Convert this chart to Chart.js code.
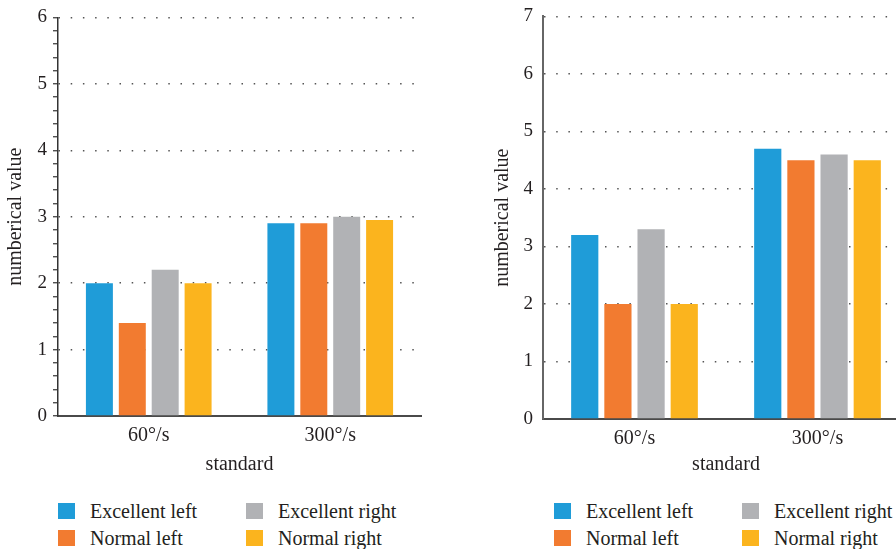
<!DOCTYPE html>
<html>
<head>
<meta charset="utf-8">
<script src="https://cdn.jsdelivr.net/npm/chart.js@4"></script>
<style>
  html, body { margin: 0; padding: 0; background: #fff; overflow: hidden; }
  body { width: 896px; height: 549px; position: relative; font-family: "Liberation Serif", serif; color: #231f20; }
  .box { position: absolute; top: 0; height: 480px; }
  #boxA { left: 0; width: 440px; }
  #boxB { left: 487px; width: 441px; }
  .legend { position: absolute; display: grid; grid-template-columns: 188px 188px; row-gap: 11px; font-size: 20px; }
  .legend div { display: flex; align-items: center; height: 16px; white-space: nowrap; }
  .legend span.sw { width: 17px; height: 16px; margin-right: 15px; flex: none; }
</style>
</head>
<body>
<div class="box" id="boxA"><canvas id="chartA"></canvas></div>
<div class="box" id="boxB"><canvas id="chartB"></canvas></div>
<div class="legend" id="legendA" style="left:58px; top:503px;"></div>
<div class="legend" id="legendB" style="left:554px; top:503px;"></div>
<script>
// categories and series names
const categories = ['60°/s', '300°/s'];
const seriesNames = ['Excellent left', 'Normal left', 'Excellent right', 'Normal right'];
const seriesColors = ['#1f9cd8', '#f27b30', '#b1b2b5', '#fbb41e'];

// left chart values
const leftExcellentLeft = [2.0, 2.9];
const leftNormalLeft = [1.4, 2.9];
const leftExcellentRight = [2.2, 3.0];
const leftNormalRight = [2.0, 2.95];

// right chart values
const rightExcellentLeft = [3.2, 4.7];
const rightNormalLeft = [2.0, 4.5];
const rightExcellentRight = [3.3, 4.6];
const rightNormalRight = [2.0, 4.5];

// y axis ranges
const leftYMax = 6;
const rightYMax = 7;

const textColor = '#231f20';
const fontFamily = '"Liberation Serif", serif';

function makeDatasets(series) {
  return series.map((values, i) => ({
    label: seriesNames[i],
    data: values,
    backgroundColor: seriesColors[i],
    borderWidth: 0,
    categoryPercentage: 0.725,
    barPercentage: 0.82
  }));
}

function isWhole(v) {
  return Math.abs(v - Math.round(v)) < 1e-6;
}

function makeChart(id, series, yMax, opts) {
  return new Chart(document.getElementById(id), {
    type: 'bar',
    data: {
      labels: categories,
      datasets: makeDatasets(series)
    },
    options: {
      responsive: true,
      maintainAspectRatio: false,
      animation: false,
      layout: { padding: { left: 0, top: opts.top, right: opts.right, bottom: 0 } },
      plugins: {
        legend: { display: false },
        tooltip: { enabled: false }
      },
      scales: {
        x: {
          grid: { display: false },
          border: { display: true, color: '#4a4a4a', width: 2 },
          ticks: { color: textColor, font: { family: fontFamily, size: 20 }, padding: 0 },
          title: {
            display: true,
            text: 'standard',
            color: textColor,
            font: { family: fontFamily, size: 20 },
            padding: { top: 0, bottom: 3 }
          },
          afterFit: scale => { scale.height = 480 - opts.bottom; }
        },
        y: {
          min: 0,
          max: yMax,
          ticks: {
            stepSize: opts.minor ? 0.2 : 1,
            autoSkip: false,
            color: textColor,
            font: { family: fontFamily, size: 19 },
            padding: opts.labelPad,
            callback: v => isWhole(v) ? Math.round(v) : ''
          },
          grid: {
            color: ctx => (isWhole(ctx.tick.value) && ctx.tick.value !== 0) ? '#555' : 'rgba(0,0,0,0)',
            lineWidth: 1.5,
            drawTicks: true,
            tickLength: 5,
            tickWidth: 1.2,
            // the right chart keeps the tick space but shows no tick marks
            tickColor: opts.minor ? '#333' : 'rgba(0,0,0,0)'
          },
          border: {
            display: true,
            color: opts.axisColor,
            width: opts.axisWidth,
            dash: ctx => ctx.type === 'tick' ? [1.5, 10.7] : []
          },
          title: {
            display: true,
            text: 'numberical value',
            color: textColor,
            font: { family: fontFamily, size: 20 },
            padding: { top: 4, bottom: 4 }
          },
          afterFit: scale => { scale.width = opts.axisLeft; }
        }
      }
    }
  });
}

// legend drawn from the chart's datasets in two columns
function buildLegend(chart, elId) {
  const el = document.getElementById(elId);
  [0, 2, 1, 3].forEach(i => {
    const ds = chart.data.datasets[i];
    const item = document.createElement('div');
    const sw = document.createElement('span');
    sw.className = 'sw';
    sw.style.background = ds.backgroundColor;
    item.appendChild(sw);
    item.appendChild(document.createTextNode(ds.label));
    el.appendChild(item);
  });
}

const chartA = makeChart('chartA',
  [leftExcellentLeft, leftNormalLeft, leftExcellentRight, leftNormalRight], leftYMax,
  { top: 17, right: 19, bottom: 416, axisLeft: 58, minor: true, labelPad: 6, axisColor: '#333', axisWidth: 1.5 });

const chartB = makeChart('chartB',
  [rightExcellentLeft, rightNormalLeft, rightExcellentRight, rightNormalRight], rightYMax,
  { top: 16, right: 19, bottom: 419, axisLeft: 56, minor: false, labelPad: 5, axisColor: '#666', axisWidth: 2 });

buildLegend(chartA, 'legendA');
buildLegend(chartB, 'legendB');
</script>
</body>
</html>
